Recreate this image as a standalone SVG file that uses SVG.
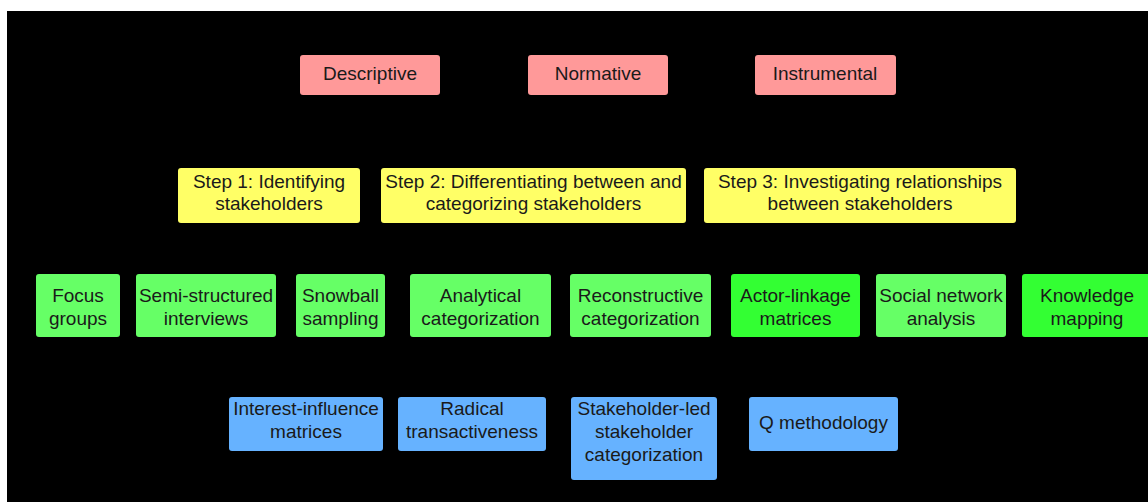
<svg xmlns="http://www.w3.org/2000/svg" width="1148" height="502" viewBox="0 0 1148 502">
<style>
text{font-family:"Liberation Sans",Arial,sans-serif;font-size:19px;fill:#1a1a1a;text-anchor:middle}
.p{fill:#ff9999}
.y{fill:#ffff66}
.g{fill:#66ff66}
.gb{fill:#33ff33}
.b{fill:#66b2ff}
</style>
<rect x="0" y="0" width="1148" height="502" fill="#ffffff"/>
<rect x="7" y="11" width="1141" height="491" fill="#000000"/>
<g id="connectors"></g>
<g id="descriptive"><rect class="p" x="300" y="55" width="140" height="40" rx="3"/><text x="370" y="80">Descriptive</text></g>
<g id="normative"><rect class="p" x="528" y="55" width="140" height="40" rx="3"/><text x="598" y="80">Normative</text></g>
<g id="instrumental"><rect class="p" x="755" y="55" width="141" height="40" rx="3"/><text x="825" y="80">Instrumental</text></g>

<g id="step1"><rect class="y" x="178" y="168" width="182" height="55" rx="3"/><text x="269" y="188">Step 1: Identifying</text><text x="269" y="210">stakeholders</text></g>
<g id="step2"><rect class="y" x="381" y="168" width="305" height="55" rx="3"/><text x="533.5" y="188">Step 2: Differentiating between and</text><text x="533.5" y="210">categorizing stakeholders</text></g>
<g id="step3"><rect class="y" x="704" y="168" width="312" height="55" rx="3"/><text x="860" y="188">Step 3: Investigating relationships</text><text x="860" y="210">between stakeholders</text></g>

<g id="focus"><rect class="g" x="36" y="274" width="84" height="63" rx="3"/><text x="78" y="302">Focus</text><text x="78" y="325">groups</text></g>
<g id="semi"><rect class="g" x="136" y="274" width="140" height="63" rx="3"/><text x="206" y="302">Semi-structured</text><text x="206" y="325">interviews</text></g>
<g id="snowball"><rect class="g" x="296" y="274" width="89" height="63" rx="3"/><text x="340.5" y="302">Snowball</text><text x="340.5" y="325">sampling</text></g>
<g id="analytical"><rect class="g" x="410" y="274" width="141" height="63" rx="3"/><text x="480.5" y="302">Analytical</text><text x="480.5" y="325">categorization</text></g>
<g id="reconstructive"><rect class="g" x="570" y="274" width="141" height="63" rx="3"/><text x="640.5" y="302">Reconstructive</text><text x="640.5" y="325">categorization</text></g>
<g id="actor"><rect class="gb" x="731" y="274" width="129" height="63" rx="3"/><text x="795.5" y="302">Actor-linkage</text><text x="795.5" y="325">matrices</text></g>
<g id="social"><rect class="g" x="876" y="274" width="130" height="63" rx="3"/><text x="941" y="302">Social network</text><text x="941" y="325">analysis</text></g>
<g id="knowledge"><rect class="gb" x="1022" y="274" width="130" height="63" rx="3"/><text x="1087" y="302">Knowledge</text><text x="1087" y="325">mapping</text></g>

<g id="interest"><rect class="b" x="229" y="397" width="154" height="54" rx="3"/><text x="306" y="415">Interest-influence</text><text x="306" y="438">matrices</text></g>
<g id="radical"><rect class="b" x="398" y="397" width="148" height="54" rx="3"/><text x="472" y="415">Radical</text><text x="472" y="438">transactiveness</text></g>
<g id="stakeholderled"><rect class="b" x="571" y="397" width="146" height="83" rx="3"/><text x="644" y="415">Stakeholder-led</text><text x="644" y="438">stakeholder</text><text x="644" y="461">categorization</text></g>
<g id="q"><rect class="b" x="749" y="397" width="149" height="54" rx="3"/><text x="823.5" y="429">Q methodology</text></g>
</svg>
